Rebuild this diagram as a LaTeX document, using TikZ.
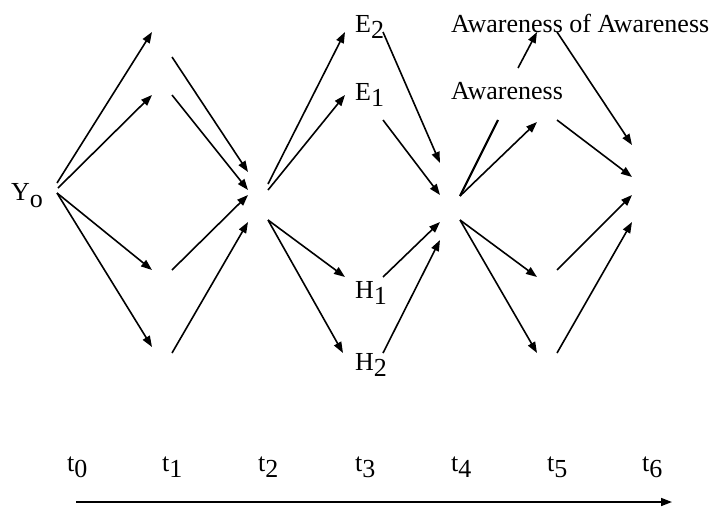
\documentclass[tikz,border=0pt]{standalone}
\usepackage{fontspec}
\setmainfont{Liberation Serif}
\usetikzlibrary{arrows.meta}
\newcommand\lowsub[1]{\raisebox{-6pt}{#1}}
\tikzset{
  flow/.style={line width=1.6pt, -{Triangle[length=11pt,width=8pt]}},
  plainline/.style={line width=2.2pt},
  lbl/.style={anchor=base west, inner sep=0pt, font=\fontsize{26}{30}\selectfont}
}
\begin{document}
\begin{tikzpicture}[x=1pt,y=-1pt]
\useasboundingbox (0,0) rectangle (719,509);

% state labels
\node[lbl] (Y0) at (11,200) {Y\raisebox{-7pt}{o}};
\node[lbl] (E2) at (355,32) {E\lowsub{2}};
\node[lbl] (E1) at (355,100) {E\lowsub{1}};
\node[lbl] (H1) at (355,298) {H\lowsub{1}};
\node[lbl] (H2) at (355,370) {H\lowsub{2}};
\node[lbl] (aw) at (451,99) {Awareness};
\node[lbl] (aoa) at (451,32) {Awareness of Awareness};

% time labels
\foreach \i/\x in {0/67,1/162,2/258,3/355,4/451,5/547,6/642}
  \node[lbl] (t\i) at (\x,471) {t\lowsub{\i}};

% branch points
\coordinate (y0a) at (57,183);
\coordinate (y0b) at (58,188);
\coordinate (y0c) at (57,193);
\coordinate (p1a) at (152,32);  \coordinate (q1a) at (172,57);
\coordinate (p1b) at (152,95);  \coordinate (q1b) at (172,95);
\coordinate (p1c) at (152,270); \coordinate (q1c) at (172,270);
\coordinate (p1d) at (152,347); \coordinate (q1d) at (172,353);
\coordinate (p2a) at (248,172);
\coordinate (p2b) at (248,190);
\coordinate (p2c) at (248,195);
\coordinate (p2d) at (248,222);
\coordinate (q2a) at (268,184);
\coordinate (q2b) at (268,190);
\coordinate (q2c) at (268,220);
\coordinate (p3a) at (345,32);  \coordinate (q3a) at (383,32);
\coordinate (p3b) at (345,95);  \coordinate (q3b) at (383,120);
\coordinate (p3c) at (345,277); \coordinate (q3c) at (383,277);
\coordinate (p3d) at (343,353); \coordinate (q3d) at (383,353);
\coordinate (p4a) at (440,163);
\coordinate (p4b) at (440,195);
\coordinate (p4c) at (440,222);
\coordinate (p4d) at (440,240);
\coordinate (q4a) at (460,196);
\coordinate (q4c) at (460,220);
\coordinate (awend) at (498,120);
\coordinate (awtop) at (518,68);
\coordinate (p5a) at (537,32);  \coordinate (q5a) at (557,32);
\coordinate (p5b) at (537,122); \coordinate (q5b) at (557,120);
\coordinate (p5c) at (537,277); \coordinate (q5c) at (557,270);
\coordinate (p5d) at (537,353); \coordinate (q5d) at (557,353);
\coordinate (p6a) at (632,145);
\coordinate (p6b) at (632,177);
\coordinate (p6c) at (632,195);
\coordinate (p6d) at (632,222);
\coordinate (axs) at (76,502);
\coordinate (axe) at (672,502);

% t0 -> t1
\draw[flow] (y0a) -- (p1a);
\draw[flow] (y0b) -- (p1b);
\draw[flow] (y0c) -- (p1c);
\draw[flow] (y0c) -- (p1d);
% t1 -> t2
\draw[flow] (q1a) -- (p2a);
\draw[flow] (q1b) -- (p2b);
\draw[flow] (q1c) -- (p2c);
\draw[flow] (q1d) -- (p2d);
% t2 -> t3
\draw[flow] (q2a) -- (p3a);
\draw[flow] (q2b) -- (p3b);
\draw[flow] (q2c) -- (p3c);
\draw[flow] (q2c) -- (p3d);
% t3 -> t4
\draw[flow] (q3a) -- (p4a);
\draw[flow] (q3b) -- (p4b);
\draw[flow] (q3c) -- (p4c);
\draw[flow] (q3d) -- (p4d);
% t4 -> t5
\draw[plainline] (q4a) -- (awend);
\draw[flow] (q4a) -- (p5b);
\draw[flow] (awtop) -- (p5a);
\draw[flow] (q4c) -- (p5c);
\draw[flow] (q4c) -- (p5d);
% t5 -> t6
\draw[flow] (q5a) -- (p6a);
\draw[flow] (q5b) -- (p6b);
\draw[flow] (q5c) -- (p6c);
\draw[flow] (q5d) -- (p6d);

% time axis
\draw[flow] (axs) -- (axe);
\end{tikzpicture}
\end{document}
